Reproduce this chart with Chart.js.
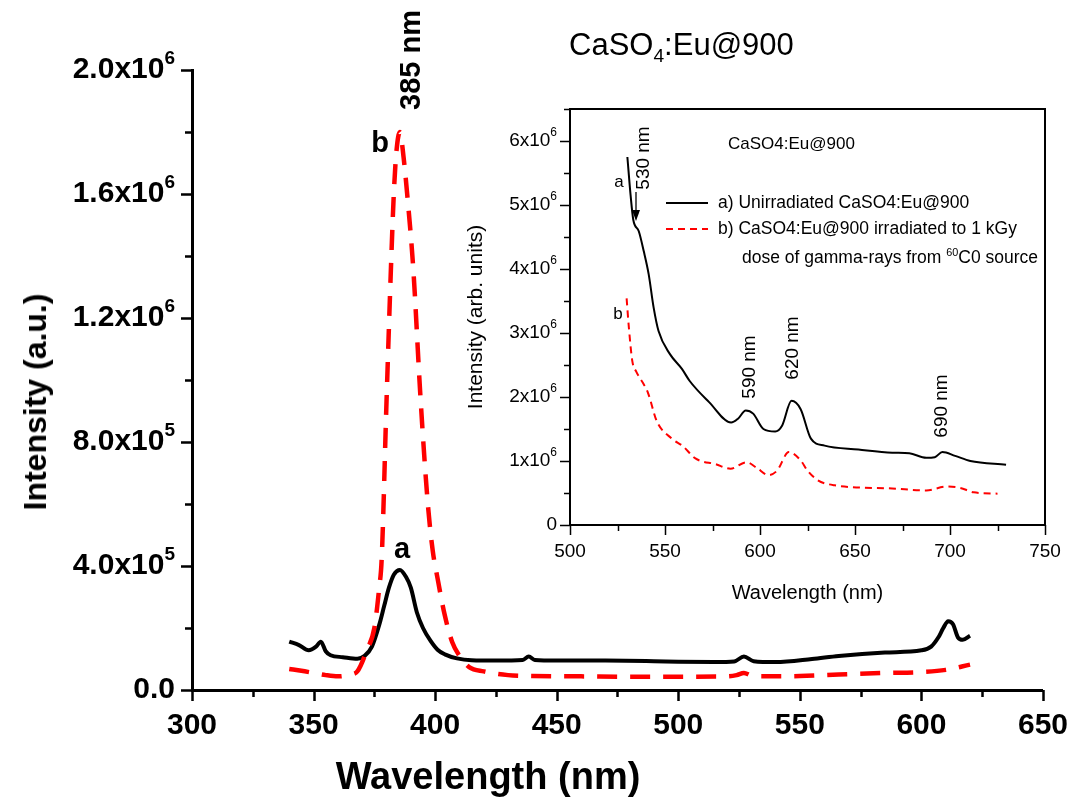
<!DOCTYPE html>
<html>
<head>
<meta charset="UTF-8">
<title>CaSO4:Eu@900</title>
<script src="https://cdn.jsdelivr.net/npm/chart.js@4.4.0/dist/chart.umd.min.js"></script>
<style>
  body { margin: 0; background: #fff; }
  #wrap { position: relative; width: 1078px; height: 811px; font-family: Arial, "Liberation Sans", sans-serif; color: #000; }
  #mainBox { position: absolute; left: 0; top: 0; width: 1078px; height: 811px; }
  #insetBox { position: absolute; left: 440px; top: 90px; width: 630px; height: 530px; }
  .lbl { position: absolute; white-space: nowrap; line-height: 1; transform: translate(-50%, -50%); }
  .rot { transform: translate(-50%, -50%) rotate(-90deg); }
  .left { transform: translate(0, -50%); }
  sup, sub { font-size: 62%; line-height: 0; }
</style>
</head>
<body>
<div id="wrap">
  <div id="mainBox"><canvas id="mainChart" width="1078" height="811"></canvas></div>
  <div id="insetBox"><canvas id="insetChart" width="630" height="530"></canvas></div>

  <!-- main chart texts -->
  <div class="lbl" style="left:488px; top:776px; font-size:38px; font-weight:bold;">Wavelength (nm)</div>
  <div class="lbl rot" style="left:35px; top:402px; font-size:32px; font-weight:bold;">Intensity (a.u.)</div>
  <div class="lbl left" style="left:569px; top:44px; font-size:31px;">CaSO<sub>4</sub>:Eu@900</div>
  <div class="lbl rot" style="left:410px; top:60px; font-size:29px; font-weight:bold;">385 nm</div>
  <div class="lbl" style="left:380px; top:142px; font-size:29px; font-weight:bold;">b</div>
  <div class="lbl" style="left:402px; top:548px; font-size:29px; font-weight:bold;">a</div>

  <!-- inset texts -->
  <div class="lbl left" style="left:728px; top:143px; font-size:17px;">CaSO4:Eu@900</div>
  <div class="lbl rot" style="left:642px; top:158px; font-size:19px;">530 nm</div>
  <div class="lbl" style="left:619px; top:181px; font-size:17px;">a</div>
  <div class="lbl" style="left:618px; top:313px; font-size:17px;">b</div>
  <div class="lbl rot" style="left:748px; top:367px; font-size:19px;">590 nm</div>
  <div class="lbl rot" style="left:791px; top:348px; font-size:19px;">620 nm</div>
  <div class="lbl rot" style="left:940px; top:406px; font-size:19px;">690 nm</div>
  <svg style="position:absolute; left:0; top:0;" width="1078" height="811">
    <line x1="636" y1="192" x2="636" y2="214" stroke="#000" stroke-width="1.3"/>
    <polygon points="632,210 640,210 636,221" fill="#000"/>
    <line x1="666" y1="203" x2="708" y2="203" stroke="#000" stroke-width="2"/>
    <line x1="666" y1="229" x2="708" y2="229" stroke="#ff0000" stroke-width="2" stroke-dasharray="7,5"/>
  </svg>
  <div class="lbl left" style="left:718px; top:203px; font-size:17.5px;">a) Unirradiated CaSO4:Eu@900</div>
  <div class="lbl left" style="left:718px; top:229px; font-size:17.5px;">b) CaSO4:Eu@900 irradiated to 1 kGy</div>
  <div class="lbl left" style="left:742px; top:258px; font-size:17.5px;">dose of gamma-rays from <sup>60</sup>C0 source</div>
</div>

<script>
// ---- main spectrum (x in nm, intensity in units of 1e5) ----
const wlA = [340, 344, 348, 351, 353, 355, 357, 362, 368, 371, 374, 377, 379, 381, 383, 385.5, 388, 390, 392.5, 395, 398, 401, 404, 409, 415, 425, 436, 438.5, 441, 450, 470, 490, 500, 515, 523, 527, 531, 540, 555, 566, 585, 600, 604, 607, 609, 611, 613, 615, 617, 620];
const intA = [1.56, 1.45, 1.28, 1.40, 1.56, 1.25, 1.12, 1.06, 1.01, 1.10, 1.40, 2.10, 2.70, 3.30, 3.72, 3.87, 3.65, 3.30, 2.50, 2.00, 1.60, 1.30, 1.15, 1.02, 0.96, 0.95, 0.97, 1.08, 0.97, 0.95, 0.95, 0.93, 0.91, 0.90, 0.92, 1.08, 0.93, 0.90, 1.00, 1.10, 1.21, 1.28, 1.40, 1.70, 2.00, 2.22, 2.12, 1.70, 1.62, 1.75];
const wlB = [340, 345, 350, 355, 360, 365, 368, 372, 375, 377, 378, 380, 382, 383, 384, 385.5, 387, 388.5, 391, 394, 397, 399, 401, 404, 407, 410, 414, 420, 430, 440, 460, 480, 500, 520, 524, 527, 530, 535, 550, 566, 585, 600, 610, 620];
const intB = [0.68, 0.62, 0.55, 0.48, 0.44, 0.50, 0.60, 1.30, 2.00, 3.30, 4.20, 9.30, 14.0, 16.0, 17.3, 18.0, 17.2, 16.0, 13.6, 9.4, 6.0, 4.5, 3.6, 2.4, 1.55, 1.10, 0.74, 0.60, 0.48, 0.45, 0.44, 0.43, 0.43, 0.44, 0.48, 0.55, 0.47, 0.44, 0.45, 0.50, 0.55, 0.58, 0.65, 0.82];

// ---- inset spectrum (x in nm, intensity in units of 1e6) ----
const insetWlA = [530.2, 531.9, 533.3, 536.2, 538.8, 541.4, 544, 546.6, 552.6, 558.9, 563, 573.2, 584.8, 588.4, 592.5, 596.4, 601.8, 608, 611.6, 616.6, 621.4, 626.8, 634, 651.8, 669.6, 678.6, 687.5, 692, 696, 702.7, 710.7, 729.5];
const insetA = [5.75, 5.15, 4.77, 4.59, 4.28, 3.92, 3.40, 3.03, 2.67, 2.44, 2.25, 1.92, 1.60, 1.66, 1.79, 1.74, 1.50, 1.46, 1.55, 1.94, 1.81, 1.35, 1.24, 1.18, 1.13, 1.12, 1.05, 1.06, 1.14, 1.08, 1.00, 0.94];
const insetWlB = [529.8, 531, 532.8, 534.8, 538.8, 541, 545.7, 553.6, 559.5, 566, 576.7, 584.5, 592.9, 598, 604.5, 609, 615.2, 621.4, 625, 630.4, 639.3, 669.6, 687.5, 698.2, 705.4, 712.5, 725];
const insetB = [3.54, 3.08, 2.56, 2.40, 2.20, 2.07, 1.62, 1.35, 1.23, 1.04, 0.95, 0.88, 0.98, 0.90, 0.78, 0.85, 1.14, 1.01, 0.85, 0.70, 0.62, 0.57, 0.54, 0.60, 0.58, 0.51, 0.49];

// ---- tick labels ----
const mainYTickValues = [0, 4e5, 8e5, 1.2e6, 1.6e6, 2.0e6];
const mainYTickText = ['0.0', '4.0x10', '8.0x10', '1.2x10', '1.6x10', '2.0x10'];
const mainYTickExp = ['', '5', '5', '6', '6', '6'];
const insetYTickValues = [0, 1e6, 2e6, 3e6, 4e6, 5e6, 6e6];
const insetYTickText = ['0', '1x10', '2x10', '3x10', '4x10', '5x10', '6x10'];
const insetYTickExp = ['', '6', '6', '6', '6', '6', '6'];

const toPoints = (xs, ys, k) => xs.map((x, i) => ({ x: x, y: ys[i] * k }));

// draws outward tick marks (major + minor), y labels with superscripts, optional box
const axisDecor = {
  id: 'axisDecor',
  afterDraw(chart, args, o) {
    const ctx = chart.ctx, xs = chart.scales.x, ys = chart.scales.y, a = chart.chartArea;
    ctx.save();
    ctx.strokeStyle = '#000';
    ctx.lineWidth = o.lw;
    ctx.beginPath();
    xs.ticks.forEach(t => {
      const px = Math.round(xs.getPixelForValue(t.value)) + 0.5;
      const len = Math.abs(t.value % o.xMajor) < 1e-6 ? o.major : o.minor;
      ctx.moveTo(px, a.bottom); ctx.lineTo(px, a.bottom + len);
    });
    ys.ticks.forEach(t => {
      const py = Math.round(ys.getPixelForValue(t.value)) + 0.5;
      const len = Math.abs(t.value % o.yMajor) < 1 ? o.major : o.minor;
      ctx.moveTo(a.left, py); ctx.lineTo(a.left - len, py);
    });
    ctx.stroke();
    if (o.box) {
      ctx.lineWidth = o.boxW;
      ctx.strokeRect(a.left, a.top, a.right - a.left, a.bottom - a.top);
    }
    // y labels
    ctx.fillStyle = '#000';
    ctx.textBaseline = 'middle';
    o.values.forEach((v, i) => {
      const py = ys.getPixelForValue(v);
      const right = a.left - o.major - o.gap;
      ctx.font = o.supFont;
      const sw = o.exps[i] ? ctx.measureText(o.exps[i]).width : 0;
      if (o.exps[i]) { ctx.textAlign = 'right'; ctx.fillText(o.exps[i], right, py - o.supRaise); }
      ctx.font = o.font;
      ctx.textAlign = 'right';
      ctx.fillText(o.texts[i], right - sw, py);
    });
    ctx.restore();
  }
};

new Chart(document.getElementById('mainChart'), {
  type: 'line',
  data: {
    datasets: [
      { data: toPoints(wlB, intB, 1e5), borderColor: '#ff0000', borderWidth: 4.5, borderDash: [20, 13],
        pointRadius: 0, cubicInterpolationMode: 'monotone', fill: false },
      { data: toPoints(wlA, intA, 1e5), borderColor: '#000000', borderWidth: 4, pointRadius: 0,
        cubicInterpolationMode: 'monotone', fill: false }
    ]
  },
  options: {
    responsive: false, animation: false, events: [],
    layout: { padding: { top: 70, right: 35, left: 0, bottom: 0 } },
    plugins: {
      legend: { display: false }, tooltip: { enabled: false },
      axisDecor: { lw: 2.5, major: 11, minor: 7, xMajor: 50, yMajor: 4e5, gap: 6,
        values: mainYTickValues, texts: mainYTickText, exps: mainYTickExp,
        font: 'bold 30px Arial, "Liberation Sans"', supFont: 'bold 19px Arial, "Liberation Sans"', supRaise: 11, box: false }
    },
    scales: {
      x: {
        type: 'linear', min: 300, max: 650,
        ticks: { stepSize: 25, autoSkip: false, maxRotation: 0, padding: 10, color: '#000',
          font: { family: 'Arial, "Liberation Sans"', size: 30, weight: 'bold' },
          callback: v => (v % 50 === 0 ? v : '') },
        grid: { display: false },
        border: { display: true, color: '#000', width: 3 },
        afterFit: s => { s.height = 121; }
      },
      y: {
        min: 0, max: 2e6,
        ticks: { stepSize: 2e5, display: false },
        grid: { display: false },
        border: { display: true, color: '#000', width: 3 },
        afterFit: s => { s.width = 192; }
      }
    }
  },
  plugins: [axisDecor]
});

new Chart(document.getElementById('insetChart'), {
  type: 'line',
  data: {
    datasets: [
      { data: toPoints(insetWlB, insetB, 1e6), borderColor: '#ff0000', borderWidth: 2, borderDash: [7, 5],
        pointRadius: 0, cubicInterpolationMode: 'monotone', fill: false },
      { data: toPoints(insetWlA, insetA, 1e6), borderColor: '#000000', borderWidth: 2, pointRadius: 0,
        cubicInterpolationMode: 'monotone', fill: false }
    ]
  },
  options: {
    responsive: false, animation: false, events: [],
    layout: { padding: { top: 19, right: 25, left: 0, bottom: 0 } },
    plugins: {
      legend: { display: false }, tooltip: { enabled: false },
      axisDecor: { lw: 1.5, major: 10, minor: 6, xMajor: 50, yMajor: 1e6, gap: 3,
        values: insetYTickValues, texts: insetYTickText, exps: insetYTickExp,
        font: '19px Arial, "Liberation Sans"', supFont: '12px Arial, "Liberation Sans"', supRaise: 8,
        box: true, boxW: 2 }
    },
    scales: {
      x: {
        type: 'linear', min: 500, max: 750,
        ticks: { stepSize: 25, autoSkip: false, maxRotation: 0, padding: 7, color: '#000',
          font: { family: 'Arial, "Liberation Sans"', size: 19 },
          callback: v => (v % 50 === 0 ? v : '') },
        grid: { display: false },
        border: { display: true, color: '#000', width: 2 },
        title: { display: true, text: 'Wavelength (nm)', color: '#000', padding: { top: 6, bottom: 15 },
          font: { family: 'Arial, "Liberation Sans"', size: 20 } },
        afterFit: s => { s.height = 95; }
      },
      y: {
        min: 0, max: 6.5e6,
        ticks: { stepSize: 5e5, display: false },
        grid: { display: false },
        border: { display: true, color: '#000', width: 2 },
        title: { display: true, text: 'Intensity (arb. units)', color: '#000', padding: { top: 24 },
          font: { family: 'Arial, "Liberation Sans"', size: 21 } },
        afterFit: s => { s.width = 130; }
      }
    }
  },
  plugins: [axisDecor]
});
</script>
</body>
</html>
